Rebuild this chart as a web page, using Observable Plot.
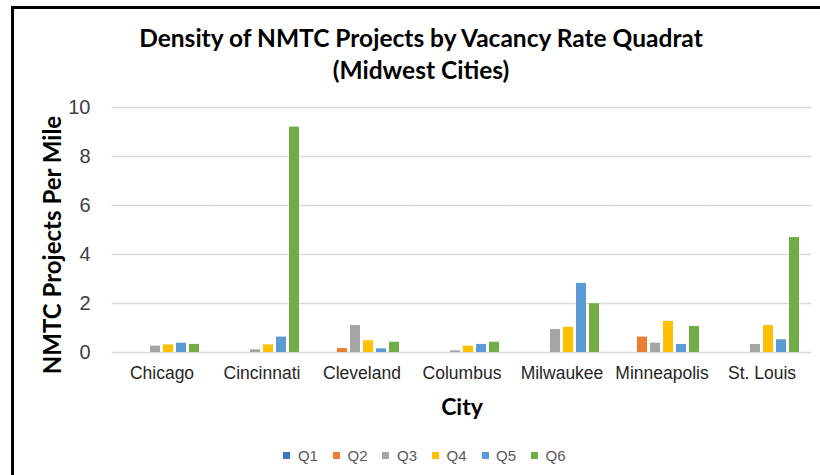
<!DOCTYPE html>
<html>
<head>
<meta charset="utf-8">
<script src="https://cdn.jsdelivr.net/npm/d3@7"></script>
<script src="https://cdn.jsdelivr.net/npm/@observablehq/plot@0.6"></script>
<style>
  html, body { margin: 0; padding: 0; background: #fff; }
  #wrap { position: relative; width: 820px; height: 475px; overflow: hidden; background: #fff; }
  #frame { position: absolute; left: 11px; top: 6px; width: 830px; height: 480px; border-left: 3px solid #000; border-top: 3px solid #000; box-sizing: border-box; }
  .title { position: absolute; left: 0; width: 842px; text-align: center; font-family: Lato, sans-serif; font-weight: bold; font-size: 24.5px; color: #000; line-height: 1; }
  #ylab { position: absolute; left: 51px; top: 245px; transform: translate(-50%, -50%) rotate(-90deg); font-family: Lato, sans-serif; font-weight: bold; font-size: 24px; white-space: nowrap; }
  #xlab { position: absolute; left: 462px; top: 406px; transform: translate(-50%, -50%); font-family: Lato, sans-serif; font-weight: bold; font-size: 23px; }
  #chart { position: absolute; left: 0; top: 0; }
  #legend { position: absolute; left: 232px; width: 400px; top: 439px; display: flex; justify-content: center; }
  #legend div, #legend span { font-family: 'Liberation Sans', Arial, sans-serif !important; font-size: 15px !important; color: #595959 !important; }
</style>
</head>
<body>
<div id="wrap">
  <div id="frame"></div>
  <div class="title" style="top:26px">Density of NMTC Projects by Vacancy Rate Quadrat</div>
  <div class="title" style="top:58px">(Midwest Cities)</div>
  <div id="chart"></div>
  <div id="ylab">NMTC Projects Per Mile</div>
  <div id="xlab">City</div>
  <div id="legend"></div>
</div>
<script>
const cities = ["Chicago", "Cincinnati", "Cleveland", "Columbus", "Milwaukee", "Minneapolis", "St. Louis"];
const quadrants = ["Q1", "Q2", "Q3", "Q4", "Q5", "Q6"];
const q1 = [0, 0, 0, 0, 0, 0, 0];
const q2 = [0, 0, 0.16, 0, 0, 0.63, 0];
const q3 = [0.26, 0.11, 1.1, 0.07, 0.94, 0.38, 0.33];
const q4 = [0.31, 0.31, 0.48, 0.26, 1.03, 1.27, 1.1];
const q5 = [0.38, 0.63, 0.15, 0.33, 2.82, 0.33, 0.52];
const q6 = [0.33, 9.2, 0.42, 0.42, 1.99, 1.06, 4.69];
const yTicks = [0, 2, 4, 6, 8, 10];
const colors = ["#4472C4", "#ED7D31", "#A5A5A5", "#FFC000", "#5B9BD5", "#70AD47"];

const series = [q1, q2, q3, q4, q5, q6];
const data = [];
cities.forEach((c, i) => quadrants.forEach((q, j) => data.push({city: c, q, v: series[j][i]})));

const chart = Plot.plot({
  width: 820,
  height: 420,
  marginLeft: 109,
  marginRight: 5,
  marginTop: 107,
  marginBottom: 68,
  style: {fontFamily: "'Liberation Sans', Arial, sans-serif", background: "transparent"},
  fx: {domain: cities, paddingInner: 0.166, paddingOuter: 0.083, label: null},
  x: {domain: quadrants, padding: 0.2, axis: null},
  y: {domain: [0, 10], label: null},
  color: {domain: quadrants, range: colors},
  marks: [
    Plot.gridY(yTicks, {stroke: "#d9d9d9", strokeOpacity: 1, strokeWidth: 1.3, insetLeft: -8.4, insetRight: -8.4}),
    Plot.barY(data, {fx: "city", x: "q", y: "v", fill: "q"}),
    Plot.axisY(yTicks, {tickSize: 0, tickPadding: 30, fontSize: 20, fill: "#404040", label: null}),
    Plot.axisFx({anchor: "bottom", tickSize: 0, tickPadding: 14, fontSize: 17.5, fill: "#262626", label: null})
  ]
});
document.getElementById("chart").appendChild(chart);

const legend = Plot.legend({
  color: {domain: quadrants, range: colors},
  legend: "swatches",
  swatchSize: 7
});
document.getElementById("legend").appendChild(legend);
</script>
</body>
</html>
